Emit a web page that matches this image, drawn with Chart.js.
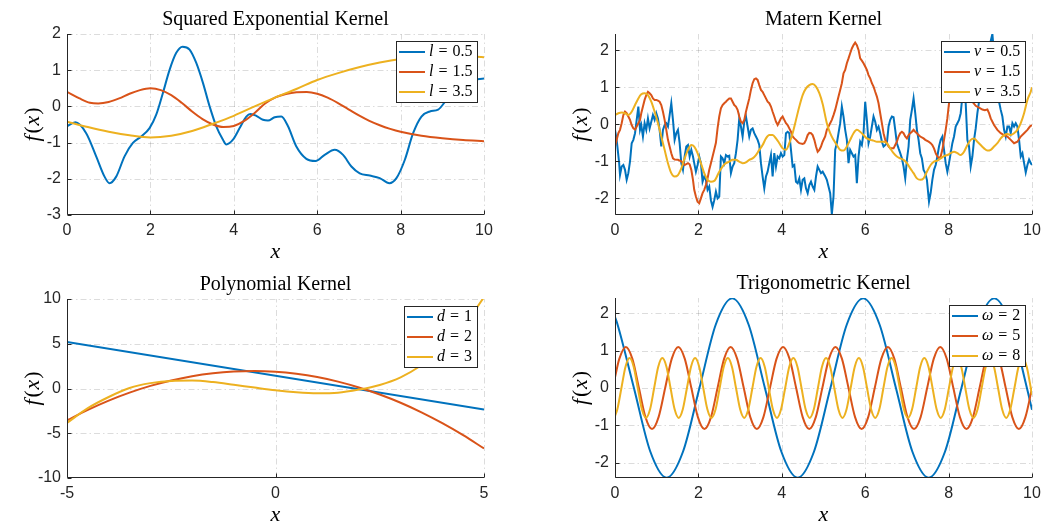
<!DOCTYPE html>
<html><head><meta charset="utf-8">
<script src="https://cdn.jsdelivr.net/npm/chart.js@4.4.1/dist/chart.umd.min.js"></script>
<style>
html,body{margin:0;padding:0;background:#fff;}
#wrap{position:relative;width:1041px;height:524px;overflow:hidden;background:#fff;}
canvas{position:absolute;left:0;top:0;}
</style></head><body>
<div id="wrap">
<canvas id="c1" width="1041" height="524"></canvas>
<canvas id="c2" width="1041" height="524"></canvas>
<canvas id="c3" width="1041" height="524"></canvas>
<canvas id="c4" width="1041" height="524"></canvas>
</div>
<script>
// ---------- tick labels ----------
const ticks0to10 = [0, 2, 4, 6, 8, 10];
const ticksSeY = [-3, -2, -1, 0, 1, 2];
const ticksUnitY = [-2, -1, 0, 1, 2];
const ticksPolyX = [-5, 0, 5];
const ticksPolyY = [-10, -5, 0, 5, 10];

// ---------- legend values ----------
const seLegend = ['0.5', '1.5', '3.5'];
const maternLegend = ['0.5', '1.5', '3.5'];
const polyLegend = ['1', '2', '3'];
const trigLegend = ['2', '5', '8'];

// ---------- Squared Exponential Kernel ----------
const seL05 = [[0,-0.55],[0.2,-0.44],[0.46,-0.74],[0.7,-1.38],[0.9,-1.94],[1.02,-2.12],[1.18,-1.94],[1.38,-1.38],[1.58,-1.01],[1.78,-0.83],[1.98,-0.6],[2.14,-0.23],[2.3,0.37],[2.46,1.01],[2.62,1.48],[2.77,1.65],[2.94,1.57],[3.1,1.2],[3.26,0.65],[3.42,0],[3.58,-0.55],[3.74,-0.92],[3.82,-1.05],[3.98,-0.92],[4.14,-0.6],[4.3,-0.28],[4.4,-0.21],[4.54,-0.26],[4.7,-0.37],[4.82,-0.39],[4.98,-0.3],[5.14,-0.28],[5.3,-0.55],[5.5,-1.11],[5.74,-1.45],[5.96,-1.51],[6.18,-1.34],[6.42,-1.2],[6.62,-1.34],[6.82,-1.66],[7.02,-1.85],[7.26,-1.91],[7.5,-1.98],[7.73,-2.12],[7.9,-1.98],[8.1,-1.48],[8.3,-0.74],[8.5,-0.28],[8.7,-0.14],[8.9,-0.09],[9.1,0.18],[9.3,0.45],[9.5,0.62],[9.7,0.72],[10,0.77]];
const seL15 = [[0,0.4],[0.3,0.22],[0.55,0.1],[0.75,0.08],[1,0.12],[1.25,0.22],[1.5,0.35],[1.75,0.45],[2,0.5],[2.25,0.45],[2.5,0.31],[2.75,0.1],[3,-0.14],[3.25,-0.35],[3.5,-0.5],[3.75,-0.57],[4,-0.54],[4.25,-0.4],[4.5,-0.18],[4.75,0.08],[5,0.25],[5.25,0.34],[5.5,0.39],[5.75,0.4],[6,0.35],[6.25,0.24],[6.5,0.09],[6.75,-0.08],[7,-0.25],[7.25,-0.4],[7.5,-0.52],[7.75,-0.62],[8,-0.7],[8.5,-0.81],[9,-0.88],[9.5,-0.93],[10,-0.96]];
const seL35 = [[0,-0.42],[0.5,-0.57],[1,-0.7],[1.5,-0.8],[2,-0.86],[2.5,-0.81],[3,-0.68],[3.5,-0.48],[4,-0.26],[4.5,0],[5,0.25],[5.5,0.48],[6,0.73],[6.5,0.92],[7,1.08],[7.5,1.21],[8,1.31],[8.5,1.37],[9,1.4],[9.5,1.39],[10,1.36]];

// ---------- Matern Kernel ----------
const maternNu05 = [[0,-0.15],[0.04,-0.42],[0.1,-1.05],[0.12,-1.37],[0.16,-1.14],[0.2,-1.1],[0.24,-1.23],[0.28,-1.5],[0.32,-1.32],[0.36,-1.0],[0.4,-0.51],[0.44,-0.42],[0.48,-0.24],[0.52,0.12],[0.56,0.48],[0.6,-0.15],[0.63,-0.02],[0.67,-0.33],[0.71,0.03],[0.75,-0.15],[0.79,0.16],[0.83,-0.11],[0.87,0.07],[0.91,0.25],[0.95,0.12],[0.99,0.3],[1.03,0.16],[1.07,-0.15],[1.11,-0.6],[1.15,-0.15],[1.19,-0.02],[1.23,0.03],[1.27,-0.06],[1.31,0.25],[1.35,0.57],[1.39,0.12],[1.43,-0.42],[1.47,-0.24],[1.51,-0.15],[1.55,-0.51],[1.59,-1.05],[1.63,-1.23],[1.67,-0.87],[1.71,-0.6],[1.75,-0.56],[1.79,-0.87],[1.83,-0.69],[1.87,-0.87],[1.9,-1.05],[1.94,-1.28],[1.98,-1.1],[2.02,-0.87],[2.06,-1.05],[2.1,-1.55],[2.14,-1.41],[2.18,-1.5],[2.22,-1.77],[2.26,-1.68],[2.3,-2.05],[2.34,-2.23],[2.38,-2.05],[2.42,-1.82],[2.46,-2.0],[2.5,-1.95],[2.54,-0.87],[2.58,-0.92],[2.62,-1.05],[2.66,-0.83],[2.7,-0.87],[2.74,-0.85],[2.78,-1.32],[2.82,-1.14],[2.86,-1.05],[2.9,-0.78],[2.94,-0.42],[2.98,0.16],[3.02,-0.06],[3.06,-0.33],[3.1,0.07],[3.14,0.21],[3.18,-0.06],[3.22,-0.33],[3.26,-0.15],[3.3,-0.11],[3.34,-0.24],[3.38,-0.33],[3.42,-0.42],[3.46,-0.56],[3.5,-1.05],[3.54,-1.41],[3.58,-1.73],[3.62,-1.41],[3.66,-1.28],[3.7,-1.05],[3.74,-0.83],[3.78,-1.41],[3.82,-0.78],[3.86,-1.14],[3.9,-0.87],[3.94,-0.92],[3.98,-0.78],[4.02,-0.87],[4.06,-0.83],[4.1,-0.24],[4.14,-0.2],[4.18,-0.24],[4.22,-0.69],[4.26,-1.14],[4.3,-1.1],[4.34,-1.55],[4.38,-1.59],[4.42,-1.46],[4.46,-1.77],[4.5,-1.5],[4.54,-1.46],[4.58,-1.73],[4.62,-1.86],[4.66,-1.64],[4.7,-1.55],[4.74,-1.68],[4.78,-1.77],[4.82,-1.41],[4.86,-1.14],[4.9,-1.23],[4.94,-1.32],[4.98,-1.28],[5.04,-1.4],[5.08,-1.5],[5.12,-1.68],[5.16,-1.86],[5.2,-2.43],[5.24,-1.95],[5.28,-0.69],[5.32,-0.51],[5.36,-0.24],[5.4,0.03],[5.44,0.48],[5.48,0.21],[5.52,-0.15],[5.56,-0.42],[5.6,-1.05],[5.64,-0.69],[5.68,-0.78],[5.72,-0.87],[5.76,-0.83],[5.8,-1.59],[5.84,-0.87],[5.88,-0.47],[5.92,-0.56],[5.96,-0.24],[6,0.61],[6.04,0.12],[6.08,-0.51],[6.12,-0.33],[6.16,-0.06],[6.2,0.21],[6.24,0.07],[6.28,-0.15],[6.32,-0.06],[6.36,-0.24],[6.4,-0.47],[6.44,-0.6],[6.48,-0.56],[6.52,-0.51],[6.56,-0.06],[6.6,0.12],[6.64,0.21],[6.68,0.19],[6.72,-0.15],[6.76,-0.51],[6.8,-0.65],[6.84,-0.78],[6.88,-0.92],[6.92,-1.14],[6.96,-1.46],[7,-0.96],[7.04,-0.6],[7.08,0.12],[7.12,0.39],[7.16,0.7],[7.2,0.3],[7.24,-0.15],[7.28,-0.42],[7.32,-0.78],[7.36,-0.92],[7.4,-1.23],[7.44,-1.32],[7.48,-1.5],[7.53,-2.09],[7.57,-1.85],[7.61,-1.5],[7.65,-1.23],[7.69,-1.1],[7.73,-0.87],[7.77,-0.6],[7.81,-0.42],[7.85,-0.33],[7.89,-0.69],[7.93,-1.05],[7.97,-1.28],[8.01,-1.05],[8.05,-0.78],[8.09,-0.51],[8.13,-0.33],[8.17,-0.06],[8.21,0.03],[8.25,0.12],[8.29,0.3],[8.33,0.75],[8.37,1.11],[8.41,0.57],[8.45,-0.42],[8.49,-0.6],[8.53,-1.14],[8.57,-0.87],[8.61,-0.42],[8.65,-0.11],[8.69,0.3],[8.73,0.61],[8.78,1.1],[8.83,0.8],[8.88,1.4],[8.93,1.7],[8.98,2.1],[9.02,2.3],[9.05,2.44],[9.09,1.9],[9.13,1.4],[9.17,0.9],[9.21,0.61],[9.25,0.39],[9.29,0.21],[9.33,-0.15],[9.37,-0.33],[9.41,-0.06],[9.45,-0.06],[9.49,-0.24],[9.53,0.03],[9.57,-0.06],[9.61,0.03],[9.65,-0.06],[9.69,-0.42],[9.73,-0.87],[9.77,-0.78],[9.81,-1.05],[9.85,-1.3],[9.89,-1.1],[9.93,-0.95],[9.97,-1.05],[10,-1.1]];
const maternNu15 = [[0,-0.6],[0.04,-0.42],[0.08,-0.24],[0.12,-0.15],[0.16,0.03],[0.2,0.25],[0.24,0.34],[0.28,0.3],[0.32,0.21],[0.36,0.12],[0.4,-0.02],[0.44,-0.11],[0.48,-0.14],[0.52,-0.06],[0.56,0.03],[0.6,0.12],[0.63,0.3],[0.67,0.48],[0.71,0.66],[0.75,0.79],[0.79,0.88],[0.83,0.84],[0.87,0.79],[0.91,0.7],[0.95,0.66],[0.99,0.66],[1.03,0.64],[1.07,0.61],[1.11,0.52],[1.15,0.34],[1.19,0.12],[1.23,-0.15],[1.27,-0.42],[1.31,-0.6],[1.35,-0.78],[1.39,-0.92],[1.43,-0.95],[1.51,-0.96],[1.59,-1.0],[1.63,-1.05],[1.67,-1.1],[1.75,-1.05],[1.79,-1.08],[1.83,-1.23],[1.87,-1.5],[1.9,-1.77],[1.94,-1.95],[1.98,-2.09],[2.02,-2.13],[2.06,-2.0],[2.1,-1.86],[2.14,-1.77],[2.18,-1.64],[2.22,-1.46],[2.26,-1.23],[2.3,-1.05],[2.34,-0.87],[2.38,-0.69],[2.42,-0.5],[2.46,-0.1],[2.5,0.21],[2.54,0.43],[2.58,0.52],[2.62,0.57],[2.66,0.61],[2.7,0.66],[2.74,0.7],[2.78,0.7],[2.82,0.61],[2.86,0.52],[2.9,0.48],[2.94,0.39],[2.98,0.21],[3.02,0.07],[3.06,0.03],[3.1,0.12],[3.14,0.34],[3.18,0.52],[3.22,0.7],[3.26,0.93],[3.3,1.11],[3.34,1.22],[3.38,1.24],[3.42,1.2],[3.46,1.06],[3.5,0.93],[3.54,0.88],[3.58,0.79],[3.62,0.7],[3.66,0.61],[3.7,0.57],[3.74,0.48],[3.78,0.34],[3.82,0.21],[3.86,0.07],[3.9,-0.02],[3.94,0.07],[3.98,0.16],[4.02,0.21],[4.06,0.12],[4.1,0.03],[4.14,-0.02],[4.18,-0.11],[4.22,-0.2],[4.26,-0.33],[4.3,-0.38],[4.34,-0.42],[4.38,-0.47],[4.42,-0.51],[4.5,-0.53],[4.54,-0.51],[4.58,-0.42],[4.62,-0.29],[4.66,-0.23],[4.7,-0.24],[4.74,-0.29],[4.78,-0.42],[4.82,-0.6],[4.86,-0.74],[4.9,-0.69],[4.94,-0.6],[4.98,-0.47],[5.04,-0.33],[5.08,-0.15],[5.12,-0.06],[5.16,0.03],[5.2,0.12],[5.24,0.25],[5.28,0.39],[5.32,0.57],[5.36,0.75],[5.4,0.93],[5.44,1.11],[5.48,1.38],[5.52,1.47],[5.56,1.65],[5.6,1.78],[5.64,1.92],[5.68,2.05],[5.72,2.14],[5.76,2.21],[5.8,2.14],[5.84,2.01],[5.88,1.78],[5.92,1.72],[5.96,1.65],[6,1.56],[6.04,1.47],[6.08,1.33],[6.12,1.24],[6.16,1.11],[6.2,1.02],[6.24,0.88],[6.28,0.75],[6.32,0.57],[6.36,0.3],[6.4,0.03],[6.44,-0.24],[6.48,-0.42],[6.52,-0.51],[6.56,-0.6],[6.6,-0.65],[6.68,-0.65],[6.72,-0.56],[6.76,-0.47],[6.8,-0.33],[6.84,-0.24],[6.88,-0.2],[6.92,-0.24],[6.96,-0.33],[7,-0.38],[7.04,-0.29],[7.08,-0.24],[7.12,-0.2],[7.16,-0.15],[7.2,-0.2],[7.24,-0.24],[7.28,-0.29],[7.32,-0.33],[7.4,-0.38],[7.44,-0.42],[7.52,-0.47],[7.57,-0.51],[7.61,-0.56],[7.65,-0.65],[7.69,-0.78],[7.73,-0.87],[7.77,-0.92],[7.81,-0.87],[7.85,-0.69],[7.89,-0.42],[7.93,-0.15],[7.97,0.16],[8.01,0.57],[8.1,1.0],[8.2,1.25],[8.3,1.3],[8.4,1.05],[8.5,0.75],[8.57,0.61],[8.65,0.5],[8.73,0.45],[8.81,0.4],[8.87,0.38],[8.93,0.4],[8.97,0.3],[9.01,0.16],[9.09,-0.02],[9.17,-0.15],[9.25,-0.24],[9.33,-0.29],[9.41,-0.33],[9.49,-0.42],[9.57,-0.51],[9.65,-0.47],[9.73,-0.33],[9.81,-0.24],[9.89,-0.15],[9.95,-0.06],[10,-0.02]];
const maternNu35 = [[0,0.25],[0.08,0.3],[0.16,0.32],[0.24,0.3],[0.32,0.25],[0.4,0.34],[0.48,0.52],[0.56,0.7],[0.63,0.81],[0.71,0.84],[0.79,0.79],[0.87,0.61],[0.95,0.34],[1.03,0.03],[1.11,-0.33],[1.19,-0.69],[1.27,-1.05],[1.35,-1.32],[1.43,-1.41],[1.51,-1.37],[1.59,-1.19],[1.67,-0.92],[1.75,-0.69],[1.83,-0.56],[1.9,-0.6],[1.98,-0.78],[2.06,-1.05],[2.14,-1.32],[2.22,-1.5],[2.3,-1.55],[2.38,-1.53],[2.5,-1.28],[2.58,-1.14],[2.66,-1.05],[2.74,-1.01],[2.82,-0.96],[2.9,-0.96],[2.98,-1.01],[3.06,-1.05],[3.14,-1.03],[3.22,-0.96],[3.3,-0.92],[3.38,-0.83],[3.46,-0.69],[3.54,-0.56],[3.62,-0.38],[3.7,-0.29],[3.78,-0.29],[3.86,-0.38],[3.94,-0.51],[4.02,-0.65],[4.1,-0.69],[4.18,-0.51],[4.26,-0.24],[4.34,0.12],[4.42,0.48],[4.5,0.79],[4.58,0.97],[4.66,1.06],[4.74,1.09],[4.82,1.02],[4.9,0.84],[4.98,0.55],[5.08,0.03],[5.16,-0.24],[5.24,-0.42],[5.32,-0.56],[5.4,-0.69],[5.48,-0.71],[5.56,-0.6],[5.64,-0.42],[5.72,-0.24],[5.8,-0.15],[5.88,-0.2],[5.96,-0.29],[6.04,-0.38],[6.12,-0.42],[6.2,-0.44],[6.28,-0.47],[6.44,-0.47],[6.52,-0.51],[6.6,-0.65],[6.68,-0.78],[6.76,-0.87],[6.84,-0.92],[6.92,-0.96],[7,-1.05],[7.08,-1.19],[7.16,-1.32],[7.24,-1.46],[7.32,-1.5],[7.4,-1.46],[7.48,-1.28],[7.57,-1.1],[7.65,-1.01],[7.73,-0.98],[7.81,-0.92],[7.89,-0.86],[7.97,-0.83],[8.05,-0.78],[8.13,-0.74],[8.21,-0.78],[8.29,-0.83],[8.37,-0.74],[8.45,-0.56],[8.53,-0.42],[8.61,-0.38],[8.69,-0.47],[8.77,-0.56],[8.85,-0.65],[8.93,-0.71],[9.01,-0.69],[9.09,-0.6],[9.17,-0.51],[9.25,-0.38],[9.33,-0.29],[9.41,-0.26],[9.49,-0.29],[9.57,-0.24],[9.65,-0.15],[9.73,0.03],[9.81,0.3],[9.89,0.66],[9.97,0.88],[10,1.0]];

// ---------- Polynomial Kernel ----------
const polyD1 = [[-5,5.2],[5,-2.35]];
const polyD2 = [[-5,-3.56],[-4.5,-2.39],[-4,-1.35],[-3.5,-0.46],[-3,0.29],[-2.5,0.9],[-2,1.38],[-1.5,1.71],[-1,1.9],[-0.5,1.96],[0,1.87],[0.5,1.64],[1,1.28],[1.5,0.77],[2,0.12],[2.5,-0.67],[3,-1.59],[3.5,-2.66],[4,-3.87],[4.5,-5.21],[5,-6.7]];
const polyD3 = [[-5,-3.85],[-4.5,-2.2],[-4,-0.95],[-3.5,0.05],[-3,0.6],[-2.5,0.85],[-2,0.88],[-1.5,0.72],[-1,0.42],[-0.5,0.1],[0,-0.2],[0.5,-0.42],[1,-0.53],[1.5,-0.47],[2,-0.12],[2.5,0.4],[3,1.25],[3.5,2.6],[4,4.4],[4.5,6.9],[5,10.2]];

// ---------- Trigonometric Kernel ----------
const trigW2 = [[0,1.9],[0.061,1.7],[0.454,0],[0.846,-1.7],[1.239,-2.4],[1.632,-1.7],[2.025,0],[2.417,1.7],[2.81,2.4],[3.203,1.7],[3.595,0],[3.988,-1.7],[4.381,-2.4],[4.773,-1.7],[5.166,0],[5.559,1.7],[5.952,2.4],[6.344,1.7],[6.737,0],[7.13,-1.7],[7.522,-2.4],[7.915,-1.7],[8.308,0],[8.701,1.7],[9.093,2.4],[9.486,1.7],[9.878,0],[10,-0.58]];
const trigW5 = [[0,0.29],[0.103,0.78],[0.26,1.1],[0.417,0.78],[0.574,0],[0.731,-0.78],[0.888,-1.1],[1.045,-0.78],[1.203,0],[1.36,0.78],[1.517,1.1],[1.674,0.78],[1.831,0],[1.988,-0.78],[2.145,-1.1],[2.302,-0.78],[2.459,0],[2.616,0.78],[2.773,1.1],[2.93,0.78],[3.088,0],[3.245,-0.78],[3.402,-1.1],[3.559,-0.78],[3.716,0],[3.873,0.78],[4.03,1.1],[4.187,0.78],[4.344,0],[4.501,-0.78],[4.658,-1.1],[4.815,-0.78],[4.972,0],[5.13,0.78],[5.286,1.1],[5.443,0.78],[5.6,0],[5.757,-0.78],[5.915,-1.1],[6.072,-0.78],[6.229,0],[6.386,0.78],[6.543,1.1],[6.7,0.78],[6.857,0],[7.014,-0.78],[7.171,-1.1],[7.329,-0.78],[7.486,0],[7.643,0.78],[7.8,1.1],[7.957,0.78],[8.114,0],[8.271,-0.78],[8.428,-1.1],[8.585,-0.78],[8.742,0],[8.899,0.78],[9.056,1.1],[9.213,0.78],[9.37,0],[9.528,-0.78],[9.685,-1.1],[9.842,-0.78],[10,0]];
const trigW8 = [[0,-0.75],[0.056,-0.57],[0.154,0],[0.252,0.57],[0.35,0.8],[0.448,0.57],[0.546,0],[0.645,-0.57],[0.743,-0.8],[0.841,-0.57],[0.939,0],[1.037,0.57],[1.135,0.8],[1.234,0.57],[1.332,0],[1.43,-0.57],[1.528,-0.8],[1.626,-0.57],[1.725,0],[1.823,0.57],[1.921,0.8],[2.019,0.57],[2.117,0],[2.215,-0.57],[2.313,-0.8],[2.412,-0.57],[2.51,0],[2.608,0.57],[2.706,0.8],[2.804,0.57],[2.902,0],[3.001,-0.57],[3.099,-0.8],[3.197,-0.57],[3.295,0],[3.393,0.57],[3.491,0.8],[3.59,0.57],[3.688,0],[3.786,-0.57],[3.884,-0.8],[3.982,-0.57],[4.081,0],[4.179,0.57],[4.277,0.8],[4.375,0.57],[4.473,0],[4.571,-0.57],[4.67,-0.8],[4.768,-0.57],[4.866,0],[4.964,0.57],[5.062,0.8],[5.16,0.57],[5.259,0],[5.357,-0.57],[5.455,-0.8],[5.553,-0.57],[5.651,0],[5.75,0.57],[5.848,0.8],[5.946,0.57],[6.044,0],[6.142,-0.57],[6.24,-0.8],[6.339,-0.57],[6.437,0],[6.535,0.57],[6.633,0.8],[6.731,0.57],[6.829,0],[6.928,-0.57],[7.026,-0.8],[7.124,-0.57],[7.222,0],[7.32,0.57],[7.418,0.8],[7.517,0.57],[7.615,0],[7.713,-0.57],[7.811,-0.8],[7.909,-0.57],[8.008,0],[8.106,0.57],[8.204,0.8],[8.302,0.57],[8.4,0],[8.498,-0.57],[8.597,-0.8],[8.695,-0.57],[8.793,0],[8.891,0.57],[8.989,0.8],[9.088,0.57],[9.186,0],[9.284,-0.57],[9.382,-0.8],[9.48,-0.57],[9.579,0],[9.677,0.57],[9.775,0.8],[9.873,0.57],[9.971,0],[10,-0.18]];

// ---------- rendering ----------
const COLORS = ['#0072BD', '#D95319', '#EDB120'];
const SERIF = '"Liberation Serif", "Times New Roman", serif';
const SANS = '"Liberation Sans", Arial, sans-serif';
const AXIS_COLOR = '#262626';
const W = 1041, H = 524, WY = 40, HX = 30;

function toXY(pairs) { return pairs.map(p => ({ x: p[0], y: p[1] })); }

const decor = {
  id: 'decor',
  beforeDatasetsDraw(chart, args, o) {
    const { ctx, chartArea: a, scales } = chart;
    const xs = scales.x, ys = scales.y;
    ctx.save();
    ctx.strokeStyle = 'rgba(38,38,38,0.16)';
    ctx.lineWidth = 1;
    ctx.setLineDash([6, 3, 1.5, 3]);
    xs.ticks.forEach(t => {
      const px = Math.round(xs.getPixelForValue(t.value)) + 0.5;
      if (px <= a.left + 1) return;
      ctx.beginPath(); ctx.moveTo(px, a.bottom); ctx.lineTo(px, a.top); ctx.stroke();
    });
    ys.ticks.forEach(t => {
      const py = Math.round(ys.getPixelForValue(t.value)) + 0.5;
      if (py >= a.bottom - 1) return;
      ctx.beginPath(); ctx.moveTo(a.left, py); ctx.lineTo(a.right, py); ctx.stroke();
    });
    ctx.restore();
  },
  afterDatasetsDraw(chart, args, o) {
    const { ctx, chartArea: a, scales } = chart;
    const xs = scales.x, ys = scales.y;
    ctx.save();
    // axis lines
    ctx.strokeStyle = AXIS_COLOR; ctx.lineWidth = 1; ctx.setLineDash([]);
    const lx = Math.round(a.left) + 0.5, by = Math.round(a.bottom) - 0.5;
    ctx.beginPath(); ctx.moveTo(lx, a.top); ctx.lineTo(lx, by); ctx.lineTo(a.right, by); ctx.stroke();
    // inward ticks
    xs.ticks.forEach(t => {
      const px = Math.round(xs.getPixelForValue(t.value)) + 0.5;
      ctx.beginPath(); ctx.moveTo(px, by); ctx.lineTo(px, by - 4); ctx.stroke();
    });
    ys.ticks.forEach(t => {
      const py = Math.round(ys.getPixelForValue(t.value)) + 0.5;
      ctx.beginPath(); ctx.moveTo(lx, py); ctx.lineTo(lx + 4, py); ctx.stroke();
    });
    // legend
    const fs = 16;
    const fItal = 'italic ' + fs + 'px ' + SERIF, fRom = fs + 'px ' + SERIF;
    ctx.font = fItal; const wv = ctx.measureText(o.varName).width;
    ctx.font = fRom; const weq = ctx.measureText('=').width;
    let maxW = 0; o.values.forEach(v => { maxW = Math.max(maxW, ctx.measureText(v).width); });
    const textW = wv + 5 + weq + 5 + maxW;
    const bw = Math.round(33 + textW + 5), bh = 61;
    const bx = Math.round(a.right - 7 - bw), bt = Math.round(a.top + 7);
    ctx.fillStyle = '#fff'; ctx.fillRect(bx, bt, bw, bh);
    ctx.strokeStyle = AXIS_COLOR; ctx.lineWidth = 1;
    ctx.strokeRect(bx + 0.5, bt + 0.5, bw, bh);
    o.values.forEach((v, i) => {
      const cy = bt + 11 + 20 * i;
      ctx.strokeStyle = COLORS[i]; ctx.lineWidth = 2;
      ctx.beginPath(); ctx.moveTo(bx + 3, cy); ctx.lineTo(bx + 29, cy); ctx.stroke();
      ctx.fillStyle = '#000'; ctx.textBaseline = 'middle'; ctx.textAlign = 'left';
      let tx = bx + 33;
      ctx.font = fItal; ctx.fillText(o.varName, tx, cy); tx += wv + 5;
      ctx.font = fRom; ctx.fillText('=', tx, cy); tx += weq + 5;
      ctx.fillText(v, tx, cy);
    });
    // title
    ctx.fillStyle = '#000';
    ctx.font = '20px ' + SERIF; ctx.textAlign = 'center'; ctx.textBaseline = 'alphabetic';
    ctx.fillText(o.title, (a.left + a.right) / 2, a.top - 9.5);
    // x label
    ctx.font = 'italic 22px ' + SERIF;
    ctx.fillText('x', (a.left + a.right) / 2, a.bottom + 43);
    // y label f(x)
    ctx.save();
    ctx.translate(a.left - 34, (a.top + a.bottom) / 2);
    ctx.rotate(-Math.PI / 2);
    const parts = [['f', true, 2], ['(', false, 0.5], ['x', true, 1], [')', false, 0]];
    let tot = 0;
    parts.forEach(p => { ctx.font = (p[1] ? 'italic ' : '') + '22px ' + SERIF; p.push(ctx.measureText(p[0]).width); tot += p[3] + p[2]; });
    let px = -tot / 2;
    ctx.textAlign = 'left'; ctx.textBaseline = 'middle';
    parts.forEach(p => { ctx.font = (p[1] ? 'italic ' : '') + '22px ' + SERIF; ctx.fillText(p[0], px, 0); px += p[3] + p[2]; });
    ctx.restore();
    ctx.restore();
  }
};

function makeChart(id, cfg) {
  const [L, T, R, B] = cfg.box;
  const datasets = cfg.series.map((s, i) => ({
    data: toXY(s),
    borderColor: COLORS[i],
    borderWidth: 2,
    pointRadius: 0,
    fill: false,
    order: 3 - i,
    tension: 0,
    cubicInterpolationMode: cfg.interp[i] === 'monotone' ? 'monotone' : 'default'
  }));
  return new Chart(document.getElementById(id), {
    type: 'line',
    data: { datasets },
    options: {
      responsive: false,
      animation: false,
      events: [],
      layout: { padding: { left: L - WY, top: T, right: W - R, bottom: H - B - HX } },
      scales: {
        x: {
          type: 'linear', min: cfg.xRange[0], max: cfg.xRange[1],
          grid: { display: false, drawTicks: false }, border: { display: false },
          ticks: { autoSkip: false, maxRotation: 0, padding: 6, color: AXIS_COLOR,
                   font: { family: SANS, size: 16 }, callback: v => String(v) },
          afterBuildTicks: s => { s.ticks = cfg.xTicks.map(v => ({ value: v })); },
          afterFit: s => { s.height = HX; s.paddingLeft = 0; s.paddingRight = 0; }
        },
        y: {
          type: 'linear', min: cfg.yRange[0], max: cfg.yRange[1],
          grid: { display: false, drawTicks: false }, border: { display: false },
          ticks: { autoSkip: false, padding: 6, color: AXIS_COLOR,
                   font: { family: SANS, size: 16 }, callback: v => String(v) },
          afterBuildTicks: s => { s.ticks = cfg.yTicks.map(v => ({ value: v })); },
          afterFit: s => { s.width = WY; s.paddingTop = 0; s.paddingBottom = 0; }
        }
      },
      plugins: {
        legend: { display: false }, tooltip: { enabled: false }, title: { display: false },
        decor: { title: cfg.title, varName: cfg.varName, values: cfg.legend }
      }
    },
    plugins: [decor]
  });
}

makeChart('c1', {
  box: [67, 34, 484, 215], xRange: [0, 10], yRange: [-3, 2],
  xTicks: ticks0to10, yTicks: ticksSeY,
  series: [seL05, seL15, seL35], interp: ['monotone', 'monotone', 'monotone'],
  title: 'Squared Exponential Kernel', varName: 'l', legend: seLegend
});
makeChart('c2', {
  box: [615, 34, 1032, 215], xRange: [0, 10], yRange: [-2.45, 2.44],
  xTicks: ticks0to10, yTicks: ticksUnitY,
  series: [maternNu05, maternNu15, maternNu35], interp: ['line', 'line', 'monotone'],
  title: 'Matern Kernel', varName: '\u03BD', legend: maternLegend
});
makeChart('c3', {
  box: [67, 299, 484, 478], xRange: [-5, 5], yRange: [-10, 10],
  xTicks: ticksPolyX, yTicks: ticksPolyY,
  series: [polyD1, polyD2, polyD3], interp: ['line', 'monotone', 'monotone'],
  title: 'Polynomial Kernel', varName: 'd', legend: polyLegend
});
makeChart('c4', {
  box: [615, 298, 1032, 478], xRange: [0, 10], yRange: [-2.41, 2.41],
  xTicks: ticks0to10, yTicks: ticksUnitY,
  series: [trigW2, trigW5, trigW8], interp: ['monotone', 'monotone', 'monotone'],
  title: 'Trigonometric Kernel', varName: '\u03C9', legend: trigLegend
});
</script>
</body></html>
